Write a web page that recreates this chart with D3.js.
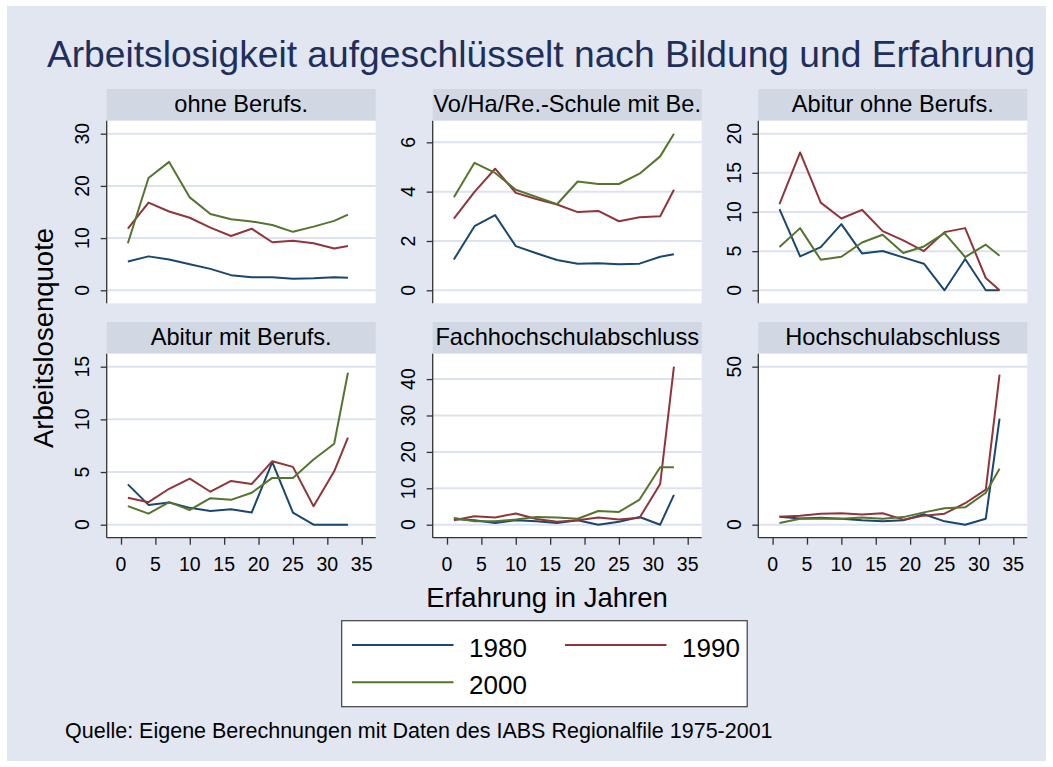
<!DOCTYPE html>
<html><head><meta charset="utf-8">
<script src="https://cdn.jsdelivr.net/npm/d3@7/dist/d3.min.js"></script>
<style>
body{margin:0;background:#fff}
svg{display:block}
text{font-family:"Liberation Sans",Arial,Helvetica,sans-serif}
</style>
</head><body>
<svg id="chart" width="1053" height="767"></svg>
<script>
// ---------- data ----------
const experience = [1,4,7,10,13,16,19,22,25,28,31,33];
const years = ["1980","1990","2000"];
const panelTitles = ["ohne Berufs.","Vo/Ha/Re.-Schule mit Be.","Abitur ohne Berufs.",
                     "Abitur mit Berufs.","Fachhochschulabschluss","Hochschulabschluss"];
const xTicks = [0,5,10,15,20,25,30,35];
const yTicks = [[0,10,20,30],[0,2,4,6],[0,5,10,15,20],[0,5,10,15],[0,10,20,30,40],[0,50]];

const ohneBerufs1980 = [5.5,6.5,5.9,5.0,4.1,2.9,2.5,2.5,2.2,2.3,2.5,2.4];
const ohneBerufs1990 = [11.8,16.8,15.1,13.9,12.0,10.4,11.8,9.2,9.5,9.0,8.0,8.5];
const ohneBerufs2000 = [9.0,21.5,24.6,17.8,14.6,13.6,13.2,12.5,11.2,12.2,13.3,14.5];

const schule1980 = [1.25,2.6,3.05,1.79,1.5,1.23,1.08,1.1,1.06,1.08,1.36,1.46];
const schule1990 = [2.91,3.99,4.93,3.95,3.7,3.48,3.17,3.22,2.8,2.96,3.0,4.08];
const schule2000 = [3.77,5.17,4.76,4.08,3.79,3.49,4.41,4.31,4.31,4.73,5.43,6.35];

const abiOhne1980 = [10.36,4.33,5.52,8.45,4.71,5.01,4.2,3.4,0,3.99,0,0];
const abiOhne1990 = [11.0,17.6,11.2,9.17,10.28,7.56,6.37,5.01,7.43,7.94,1.57,0];
const abiOhne2000 = [5.52,7.94,3.9,4.29,6.11,7.09,4.76,5.6,7.3,4.25,5.82,4.42];

const abiMit1980 = [3.83,1.88,2.1,1.6,1.31,1.47,1.15,5.94,1.15,0,0,0];
const abiMit1990 = [2.55,2.14,3.41,4.37,3.13,4.15,3.86,6.03,5.49,1.76,5.07,8.27];
const abiMit2000 = [1.76,1.05,2.14,1.4,2.52,2.36,3.03,4.44,4.44,6.19,7.69,14.43];

const fh1980 = [1.56,1.2,0.46,1.2,0.92,0.46,1.2,0,0.83,2.1,0,8.2];
const fh1990 = [1.2,2.3,2.0,3.1,1.56,0.83,1.2,2.0,1.4,1.9,11.2,43.4];
const fh2000 = [1.84,0.92,0.92,1.4,2.1,2.0,1.65,3.77,3.5,6.9,15.8,15.8];

const hs1980 = [2.55,2.0,2.2,1.9,1.4,1.06,1.4,3.3,1.06,0,1.9,33.6];
const hs1990 = [2.55,2.87,3.5,3.6,3.2,3.6,1.6,2.87,3.5,6.8,11.1,47.5];
const hs2000 = [0.53,1.9,2.0,1.9,2.3,1.9,2.4,3.9,5.2,5.5,10.1,17.7];

const panelSeries = [
  [ohneBerufs1980, ohneBerufs1990, ohneBerufs2000],
  [schule1980, schule1990, schule2000],
  [abiOhne1980, abiOhne1990, abiOhne2000],
  [abiMit1980, abiMit1990, abiMit2000],
  [fh1980, fh1990, fh2000],
  [hs1980, hs1990, hs2000]
];

// ---------- styles ----------
const seriesColors = ["#1a476f","#90353b","#55752f"];
const bgColor = "#e1e6f0";
const stripColor = "#d1d8e4";
const gridColor = "#dde3ee";
const titleColor = "#1f2f5c";

const svg = d3.select("#chart");
svg.append("rect").attr("x",7).attr("y",6).attr("width",1039).attr("height",755).attr("fill",bgColor);

// title
svg.append("text").attr("x",541).attr("y",67).attr("text-anchor","middle")
  .attr("font-size",37.2).attr("fill",titleColor)
  .text("Arbeitslosigkeit aufgeschlüsselt nach Bildung und Erfahrung");

const colLeft = [106.7, 432.7, 758.3];
const panelW = 269;
const stripTop = [89, 322];
const stripH = 31.7;
const plotH = [182.6, 184];
const pad = 13;

panelSeries.forEach((series, i) => {
  const col = i % 3, row = Math.floor(i / 3);
  const left = colLeft[col];
  const top = stripTop[row] + stripH;
  const bottom = top + plotH[row];
  const g = svg.append("g");

  // strip
  g.append("rect").attr("x",left).attr("y",stripTop[row]).attr("width",panelW).attr("height",stripH).attr("fill",stripColor);
  g.append("text").attr("x",left+panelW/2).attr("y",stripTop[row]+stripH-9)
    .attr("text-anchor","middle").attr("font-size",23.6).attr("fill","#000").text(panelTitles[i]);

  // plot bg
  g.append("rect").attr("x",left).attr("y",top).attr("width",panelW).attr("height",bottom-top).attr("fill","#fff");

  const x = d3.scaleLinear().domain([0,35]).range([left+14.3, left+panelW-14]);
  const ticks = yTicks[i];
  const yMax = Math.max(ticks[ticks.length-1], d3.max(series.flat()));
  const y = d3.scaleLinear().domain([0, yMax]).range([bottom-pad, top+pad]);

  // grid
  g.selectAll(".grid").data(ticks).enter().append("line")
    .attr("x1",left).attr("x2",left+panelW)
    .attr("y1",d=>y(d)).attr("y2",d=>y(d))
    .attr("stroke",gridColor).attr("stroke-width",2);

  // y axis
  const yAxis = d3.axisLeft(y).tickValues(ticks).tickSize(6).tickFormat("");
  const ya = g.append("g").attr("transform",`translate(${left},0)`).call(yAxis);
  ya.select(".domain").attr("d",`M0,${top}V${bottom}`).attr("stroke","#333").attr("stroke-width",1.3);
  ya.selectAll(".tick line").attr("stroke","#333").attr("stroke-width",1.3);
  g.selectAll(".ylab").data(ticks).enter().append("text")
    .attr("transform",d=>`translate(${left-17.4},${y(d)}) rotate(-90)`)
    .attr("text-anchor","middle").attr("font-size",19.5).attr("fill","#000").text(d=>d);

  // x axis on bottom row
  if (row === 1) {
    const xAxis = d3.axisBottom(x).tickValues(xTicks).tickSize(7).tickFormat("");
    const xa = g.append("g").attr("transform",`translate(0,${bottom})`).call(xAxis);
    xa.select(".domain").attr("d",`M${left},0H${left+panelW}`).attr("stroke","#333").attr("stroke-width",1.3);
    xa.selectAll(".tick line").attr("stroke","#333").attr("stroke-width",1.3);
    g.selectAll(".xlab").data(xTicks).enter().append("text")
      .attr("x",d=>x(d)).attr("y",bottom+33.3).attr("text-anchor","middle")
      .attr("font-size",19.5).attr("fill","#000").text(d=>d);
  }

  const line = d3.line().x((d,k)=>x(experience[k])).y(d=>y(d));
  series.forEach((s, k) => {
    g.append("path").datum(s).attr("d",line).attr("fill","none")
      .attr("stroke",seriesColors[k]).attr("stroke-width",2).attr("stroke-linejoin","round");
  });
});

// axis titles
svg.append("text").attr("transform","translate(53.3,338) rotate(-90)").attr("text-anchor","middle")
  .attr("font-size",27.5).attr("fill","#000").text("Arbeitslosenquote");
svg.append("text").attr("x",547).attr("y",607).attr("text-anchor","middle")
  .attr("font-size",27.5).attr("fill","#000").text("Erfahrung in Jahren");

// legend
const lg = svg.append("g");
lg.append("rect").attr("x",341.7).attr("y",620.7).attr("width",405.5).attr("height",86)
  .attr("fill","#fff").attr("stroke","#404040").attr("stroke-width",1.2);
const legendPos = [[352,645],[565,645],[352,682.3]];
years.forEach((yr,k) => {
  const [lx,ly] = legendPos[k];
  lg.append("line").attr("x1",lx).attr("x2",lx+101.5).attr("y1",ly).attr("y2",ly)
    .attr("stroke",seriesColors[k]).attr("stroke-width",2);
  lg.append("text").attr("x",lx+117).attr("y",ly+11.7).attr("font-size",26)
    .attr("fill","#000").text(yr);
});

// note
svg.append("text").attr("x",65).attr("y",737.7).attr("font-size",21.5).attr("fill","#000")
  .text("Quelle: Eigene Berechnungen mit Daten des IABS Regionalfile 1975-2001");
</script>
</body></html>
